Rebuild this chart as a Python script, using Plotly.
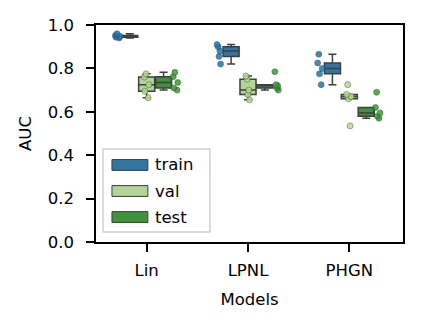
import plotly.graph_objects as go

models = ["Lin", "LPNL", "PHGN"]
splits = ["train", "val", "test"]

# AUC per fold
auc = {
    "train": {
        "Lin": [0.960, 0.952, 0.948, 0.944, 0.940],
        "LPNL": [0.910, 0.900, 0.880, 0.855, 0.820],
        "PHGN": [0.865, 0.825, 0.800, 0.775, 0.725],
    },
    "val": {
        "Lin": [0.775, 0.760, 0.725, 0.695, 0.665],
        "LPNL": [0.765, 0.750, 0.700, 0.680, 0.655],
        "PHGN": [0.725, 0.680, 0.670, 0.660, 0.535],
    },
    "test": {
        "Lin": [0.782, 0.762, 0.735, 0.710, 0.700],
        "LPNL": [0.785, 0.725, 0.720, 0.710, 0.700],
        "PHGN": [0.690, 0.620, 0.595, 0.580, 0.570],
    },
}

box_colors = ["#3275a1", "#b3d495", "#3f913b"]
point_colors = ["#1f78b4", "#b2df8a", "#33a02c"]
point_pos = [-1.5, 0.0, 1.5]

FONT = "DejaVu Sans"
EDGE = "#3f3f3f"

fig = go.Figure()
for split, fill, pcol, ppos in zip(splits, box_colors, point_colors, point_pos):
    xs, ys = [], []
    for m in models:
        xs += [m] * len(auc[split][m])
        ys += auc[split][m]
    fig.add_trace(
        go.Box(
            x=xs,
            y=ys,
            name=split,
            fillcolor=fill,
            line=dict(color=EDGE, width=1.5),
            boxpoints="all",
            pointpos=ppos,
            jitter=0.35,
            quartilemethod="inclusive",
            whiskerwidth=0.5,
            marker=dict(size=6, color=pcol, opacity=0.85, line=dict(width=0.6, color="rgba(50,50,50,0.8)")),
            showlegend=False,
            hoverinfo="y",
        )
    )

# legend drawn by hand so the patches are wide rectangles like the original
fig.add_shape(
    type="rect", xref="paper", yref="paper", x0=0.023, x1=0.371, y0=0.046, y1=0.429,
    line=dict(color="#d0d0d0", width=1.5), fillcolor="rgba(255,255,255,0.8)", layer="above",
)
for i, (split, fill) in enumerate(zip(splits, box_colors)):
    yc = 0.355 - i * 0.12
    fig.add_shape(
        type="rect", xref="paper", yref="paper", x0=0.052, x1=0.169, y0=yc - 0.025, y1=yc + 0.025,
        line=dict(color=EDGE, width=1), fillcolor=fill, layer="above",
    )
    fig.add_annotation(
        text=split, xref="paper", yref="paper", x=0.186, y=yc, xanchor="left", yanchor="middle",
        showarrow=False, font=dict(size=16.5, color="black", family=FONT),
    )

fig.update_layout(
    width=423,
    height=328,
    margin=dict(l=96, r=20, t=25, b=86),
    boxmode="group",
    boxgap=0.5,
    boxgroupgap=0.05,
    plot_bgcolor="white",
    paper_bgcolor="white",
    font=dict(family=FONT, size=16, color="black"),
)
fig.update_xaxes(
    showline=True, linecolor="black", linewidth=1.5, mirror=True,
    ticks="outside", ticklen=8, tickwidth=1.5, tickcolor="black",
    showgrid=False, ticklabelstandoff=4,
    tickfont=dict(size=16.5),
    title=dict(text="Models", standoff=15, font=dict(size=16.5)),
    automargin=False,
)
fig.update_yaxes(
    range=[0, 1], dtick=0.2, tickformat=".1f",
    showline=True, linecolor="black", linewidth=1.5, mirror=True,
    ticks="outside", ticklen=8, tickwidth=1.5, tickcolor="black",
    showgrid=False, zeroline=False, ticklabelstandoff=9,
    tickfont=dict(size=16.5),
    title=dict(text="AUC", standoff=12, font=dict(size=16.5)),
    automargin=False,
)

fig.write_html(
    "out.html",
    config={"displayModeBar": False},
    post_script="document.body.style.margin='0';",
)
